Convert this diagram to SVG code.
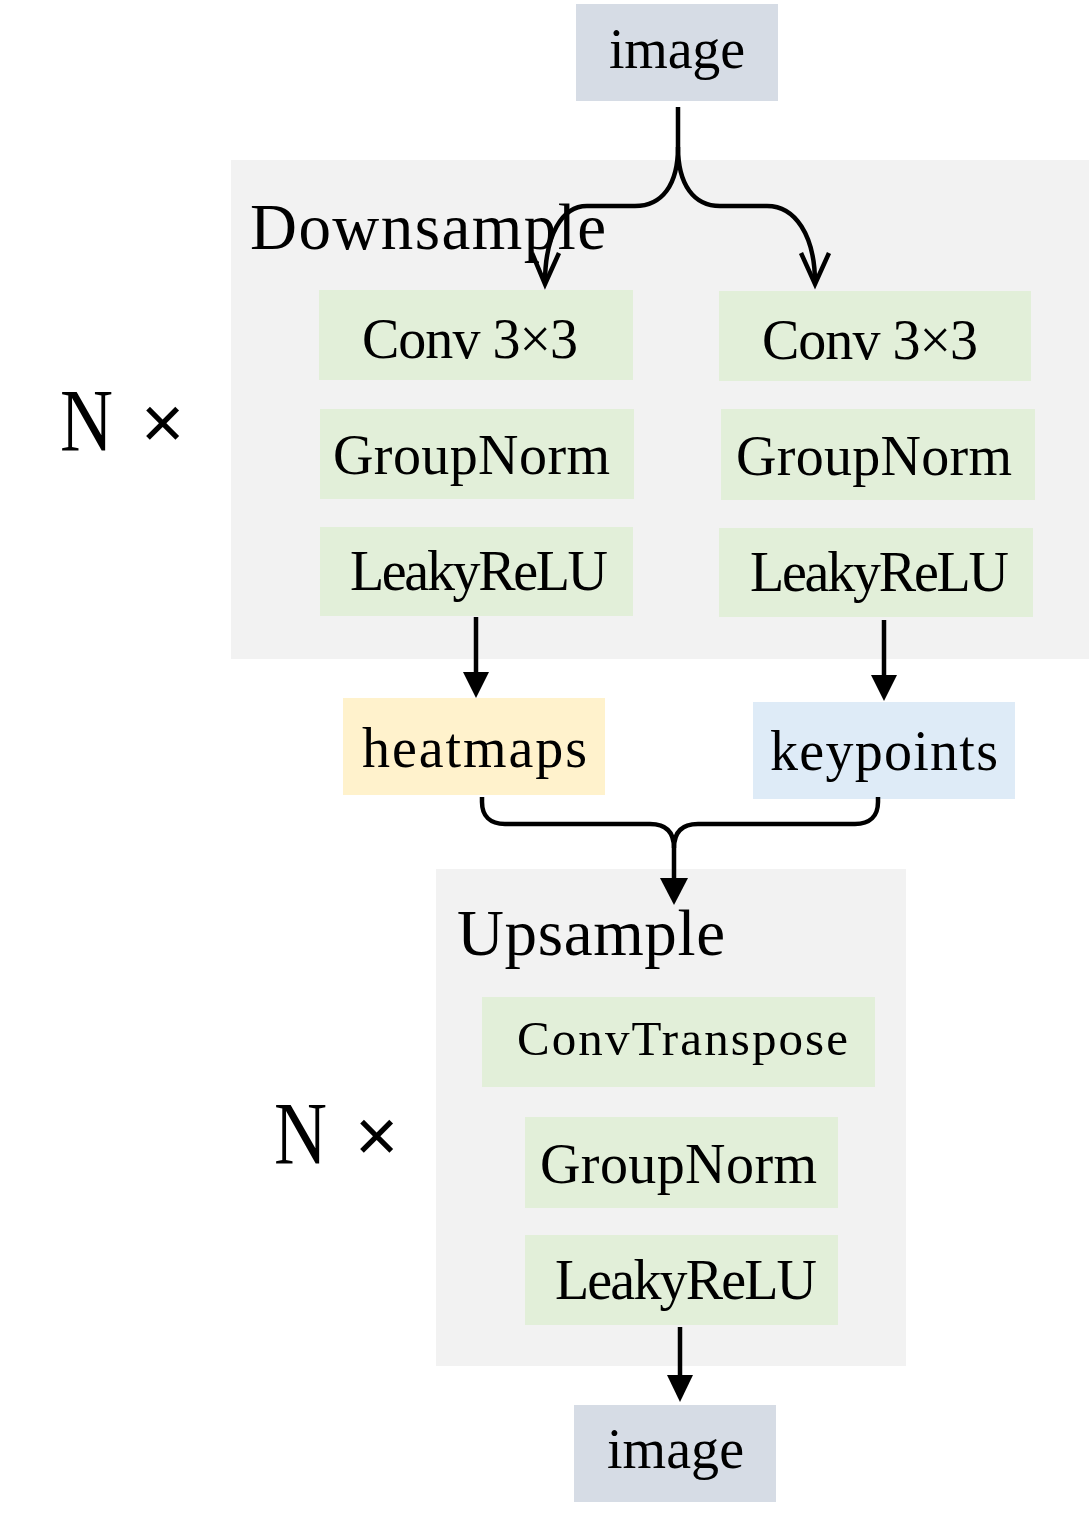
<svg xmlns="http://www.w3.org/2000/svg" width="1089" height="1521" viewBox="0 0 1089 1521">
<style>
text{font-family:"Liberation Serif","Times New Roman",serif;fill:#000}
.t{font-size:56px}
.h{font-size:65px}
.n{font-size:88px}
.x{font-family:"Liberation Sans",Arial,sans-serif;font-size:74px}
.img{fill:#d6dce5}
.grp{fill:#f2f2f2}
.grn{fill:#e2efd9}
.yel{fill:#fff2cc}
.blu{fill:#deebf7}
.ln{fill:none;stroke:#000;stroke-width:4.5}
</style>
<rect x="0" y="0" width="1089" height="1521" fill="#fff"/>
<g id="downsample">
<rect class="grp" x="231" y="160" width="858" height="499"/>
<text class="h" x="250" y="249" textLength="356">Downsample</text>
</g>
<g id="upsample">
<rect class="grp" x="436" y="869" width="470" height="497"/>
<text class="h" x="457" y="955" textLength="268">Upsample</text>
</g>
<g id="image-in">
<rect class="img" x="576" y="4" width="202" height="97"/>
<text class="t" x="609" y="68" textLength="136">image</text>
</g>
<g id="conv-l">
<rect class="grn" x="319" y="290" width="314" height="90"/>
<text class="t" x="362" y="358" textLength="216">Conv 3×3</text>
</g>
<g id="gn-l">
<rect class="grn" x="320" y="409" width="314" height="90"/>
<text class="t" x="333" y="474" textLength="277">GroupNorm</text>
</g>
<g id="lrelu-l">
<rect class="grn" x="320" y="527" width="313" height="89"/>
<text class="t" x="350" y="590" textLength="258">LeakyReLU</text>
</g>
<g id="conv-r">
<rect class="grn" x="719" y="291" width="312" height="90"/>
<text class="t" x="762" y="359" textLength="216">Conv 3×3</text>
</g>
<g id="gn-r">
<rect class="grn" x="721" y="409" width="314" height="91"/>
<text class="t" x="736" y="475" textLength="276">GroupNorm</text>
</g>
<g id="lrelu-r">
<rect class="grn" x="719" y="528" width="314" height="89"/>
<text class="t" x="750" y="591" textLength="259">LeakyReLU</text>
</g>
<g id="heatmaps">
<rect class="yel" x="343" y="698" width="262" height="97"/>
<text class="t" x="362" y="767" textLength="225">heatmaps</text>
</g>
<g id="keypoints">
<rect class="blu" x="753" y="702" width="262" height="97"/>
<text class="t" x="770" y="770" textLength="228">keypoints</text>
</g>
<g id="convt">
<rect class="grn" x="482" y="997" width="393" height="90"/>
<text class="t" x="517" y="1055" textLength="331" style="font-size:49px">ConvTranspose</text>
</g>
<g id="gn-u">
<rect class="grn" x="525" y="1117" width="313" height="91"/>
<text class="t" x="540" y="1183" textLength="277">GroupNorm</text>
</g>
<g id="lrelu-u">
<rect class="grn" x="525" y="1235" width="313" height="90"/>
<text class="t" x="555" y="1299" textLength="262">LeakyReLU</text>
</g>
<g id="image-out">
<rect class="img" x="574" y="1405" width="202" height="97"/>
<text class="t" x="607" y="1468" textLength="137">image</text>
</g>
<g id="n-top">
<text class="n" x="60" y="450" textLength="53" lengthAdjust="spacingAndGlyphs">N</text>
<text class="x" x="141" y="448">×</text>
</g>
<g id="n-bottom">
<text class="n" x="274" y="1163" textLength="53" lengthAdjust="spacingAndGlyphs">N</text>
<text class="x" x="355" y="1161">×</text>
</g>
<g id="connectors">
<path class="ln" d="M678 107 L678 147 C678 185 662 206 635 206 L587 206 C562 206 545 235 545 283"/>
<path class="ln" d="M678 147 C678 185 694 206 720 206 L767 206 C795 206 815 235 815 283"/>
<path class="ln" d="M532 253 L545 284 L559 253"/>
<path class="ln" d="M801 253 L815 284 L829 253"/>
<path class="ln" d="M476 617 L476 678"/>
<path d="M463 672 L489 672 L476 698 Z"/>
<path class="ln" d="M884 620 L884 681"/>
<path d="M871 675 L897 675 L884 701 Z"/>
<path class="ln" d="M482 797 L482 802 C482 816 490 824 505 824 L650 824 C666 824 674 832 674 848 L674 882"/>
<path class="ln" d="M878 797 L878 802 C878 816 870 824 855 824 L698 824 C682 824 674 832 674 848"/>
<path d="M660 878 L688 878 L674 905 Z"/>
<path class="ln" d="M680 1327 L680 1380"/>
<path d="M667 1375 L693 1375 L680 1402 Z"/>
</g>
</svg>
